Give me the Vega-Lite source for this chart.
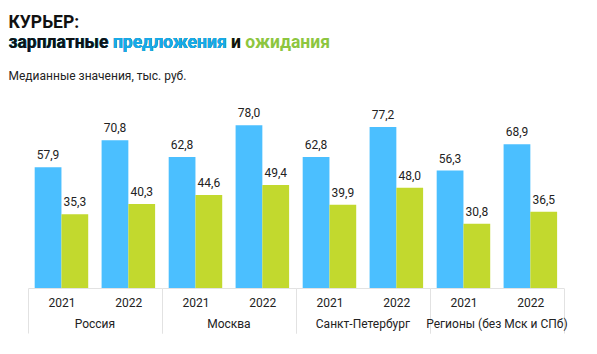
{
  "$schema": "https://vega.github.io/schema/vega-lite/v6.json",
  "background": "white",
  "padding": {"left": 8, "top": 14, "right": 5, "bottom": 5},
  "title": {
    "text": "КУРЬЕР:",
    "subtitle": "зарплатные",
    "anchor": "start",
    "frame": "group",
    "dx": -19.5,
    "offset": -17.5,
    "font": "Roboto",
    "fontSize": 17.5,
    "fontWeight": "bold",
    "color": "#111111",
    "subtitleFont": "Roboto",
    "subtitleFontSize": 17.5,
    "subtitleFontWeight": "bold",
    "subtitleColor": "#111111",
    "subtitlePadding": 2.2
  },
  "vconcat": [
    {
      "title": {
        "text": "зарплатные предложения",
        "subtitle": "Медианные значения, тыс. руб.",
        "anchor": "start",
        "frame": "group",
        "dx": -19.5,
        "offset": -48,
        "font": "Roboto",
        "fontSize": 17.5,
        "fontWeight": "bold",
        "color": "#18AAE8",
        "subtitleFont": "Roboto",
        "subtitleFontSize": 12,
        "subtitleFontWeight": "normal",
        "subtitleColor": "#222222",
        "subtitlePadding": 19.5
      },
      "vconcat": [
        {
          "title": {
            "text": "зарплатные предложения",
            "anchor": "start",
            "frame": "group",
            "dx": -19.5,
            "offset": -17.5,
            "font": "Roboto",
            "fontSize": 17.5,
            "fontWeight": "bold",
            "color": "#18AAE8"
          },
          "vconcat": [
            {
              "title": {
                "text": "зарплатные предложения и ожидания",
                "subtitle": "зарплатные предложения и",
                "anchor": "start",
                "frame": "group",
                "dx": -19.5,
                "offset": 43.5,
                "font": "Roboto",
                "fontSize": 17.5,
                "fontWeight": "bold",
                "color": "#8DC63F",
                "subtitleFont": "Roboto",
                "subtitleFontSize": 17.5,
                "subtitleFontWeight": "bold",
                "subtitleColor": "#111111",
                "subtitlePadding": -17.5
              },
              "data": {
                "values": [
                  {"region": "Россия", "year": "2021", "series": "предложения", "value": 57.9},
                  {"region": "Россия", "year": "2021", "series": "ожидания", "value": 35.3},
                  {"region": "Россия", "year": "2022", "series": "предложения", "value": 70.8},
                  {"region": "Россия", "year": "2022", "series": "ожидания", "value": 40.3},
                  {"region": "Москва", "year": "2021", "series": "предложения", "value": 62.8},
                  {"region": "Москва", "year": "2021", "series": "ожидания", "value": 44.6},
                  {"region": "Москва", "year": "2022", "series": "предложения", "value": 78.0},
                  {"region": "Москва", "year": "2022", "series": "ожидания", "value": 49.4},
                  {"region": "Санкт-Петербург", "year": "2021", "series": "предложения", "value": 62.8},
                  {"region": "Санкт-Петербург", "year": "2021", "series": "ожидания", "value": 39.9},
                  {"region": "Санкт-Петербург", "year": "2022", "series": "предложения", "value": 77.2},
                  {"region": "Санкт-Петербург", "year": "2022", "series": "ожидания", "value": 48.0},
                  {"region": "Регионы (без Мск и СПб)", "year": "2021", "series": "предложения", "value": 56.3},
                  {"region": "Регионы (без Мск и СПб)", "year": "2021", "series": "ожидания", "value": 30.8},
                  {"region": "Регионы (без Мск и СПб)", "year": "2022", "series": "предложения", "value": 68.9},
                  {"region": "Регионы (без Мск и СПб)", "year": "2022", "series": "ожидания", "value": 36.5}
                ]
              },
              "facet": {
                "column": {
                  "field": "region",
                  "type": "nominal",
                  "sort": ["Россия", "Москва", "Санкт-Петербург", "Регионы (без Мск и СПб)"],
                  "header": {
                    "title": null,
                    "labelOrient": "bottom",
                    "labelFont": "Roboto",
                    "labelFontSize": 12,
                    "labelColor": "#222222",
                    "labelPadding": -15
                  }
                }
              },
              "spacing": 0,
              "bounds": "flush",
              "spec": {
                "width": 133.8,
                "height": 193,
                "encoding": {
                  "x": {
                    "field": "year",
                    "type": "nominal",
                    "scale": {"paddingInner": 0, "paddingOuter": 0},
                    "axis": {
                      "title": null,
                      "labelAngle": 0,
                      "domain": true,
                      "domainColor": "#e2e2e2",
                      "domainWidth": 1,
                      "ticks": true,
                      "tickBand": "extent",
                      "tickSize": 45,
                      "tickWidth": 1,
                      "tickColor": {"condition": {"test": "datum.index === 0", "value": "transparent"}, "value": "#e2e2e2"},
                      "labelPadding": -36,
                      "labelFont": "Roboto",
                      "labelFontSize": 12,
                      "labelColor": "#222222",
                      "grid": false
                    }
                  },
                  "xOffset": {
                    "field": "series",
                    "type": "nominal",
                    "sort": ["предложения", "ожидания"],
                    "scale": {"paddingInner": 0, "paddingOuter": 0.25}
                  },
                  "y": {
                    "field": "value",
                    "type": "quantitative",
                    "scale": {"domain": [0, 92.5], "nice": false},
                    "axis": null
                  }
                },
                "layer": [
                  {
                    "mark": {"type": "bar"},
                    "encoding": {
                      "color": {
                        "field": "series",
                        "type": "nominal",
                        "scale": {"domain": ["предложения", "ожидания"], "range": ["#4BBFFF", "#C2D92E"]},
                        "legend": null
                      }
                    }
                  },
                  {
                    "mark": {"type": "text", "baseline": "bottom", "dy": -5, "font": "Roboto", "fontSize": 12, "color": "#222222"},
                    "encoding": {
                      "text": {"field": "value", "type": "quantitative", "format": ".1f"}
                    }
                  }
                ]
              }
            }
          ]
        }
      ]
    }
  ],
  "config": {
    "view": {"stroke": null},
    "font": "Roboto",
    "locale": {
      "number": {"decimal": ",", "thousands": " ", "grouping": [3], "currency": ["", " ₽"]}
    }
  }
}
